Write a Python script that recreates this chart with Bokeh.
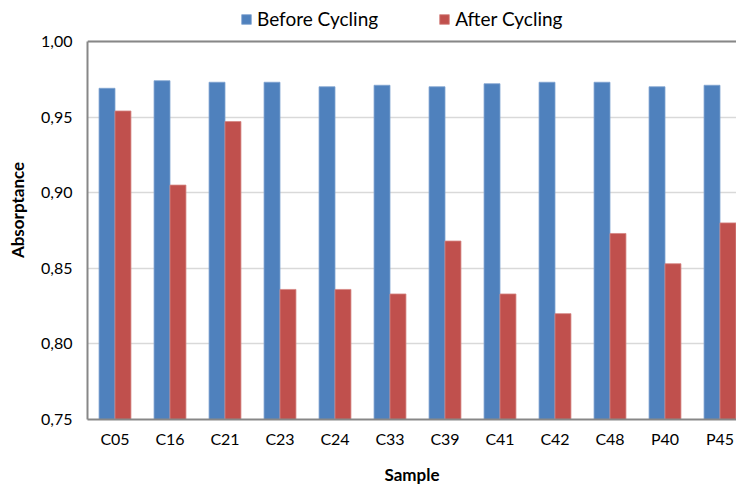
import numpy as np
from bokeh.plotting import figure
from bokeh.models import Range1d, FixedTicker, Span, Legend, LegendItem, ColumnDataSource
from bokeh.embed import file_html
from bokeh.resources import INLINE

categories = ["C05", "C16", "C21", "C23", "C24", "C33", "C39", "C41", "C42", "C48", "P40", "P45"]
before_cycling = [0.969, 0.974, 0.973, 0.973, 0.970, 0.971, 0.970, 0.972, 0.973, 0.973, 0.970, 0.971]
after_cycling = [0.954, 0.905, 0.947, 0.836, 0.836, 0.833, 0.868, 0.833, 0.820, 0.873, 0.853, 0.880]
y_ticks = [0.75, 0.80, 0.85, 0.90, 0.95, 1.00]
y_tick_labels = ["0,75", "0,80", "0,85", "0,90", "0,95", "1,00"]

FONT = "Lato"
BLUE = "#4f81bd"
RED = "#c0504d"
AXIS_GRAY = "#878787"

W, H = 736, 487
LEFT, BOTTOM = 87, 67
TOP_GAP = 41          # pixels between figure top and the 1,00 line
CAT_PX = 55
frame_w = W - LEFT
frame_h = H - BOTTOM
plot_px = frame_h - TOP_GAP
y_lo, y_hi = y_ticks[0], y_ticks[-1]
y_top = y_hi + TOP_GAP * (y_hi - y_lo) / plot_px

centers = np.arange(len(categories)) + 0.5
bar_w = 0.29
src = ColumnDataSource(dict(
    cat=categories,
    xb=centers - bar_w / 2,
    xa=centers + bar_w / 2,
    before=before_cycling,
    after=after_cycling,
))

p = figure(
    width=W, height=H,
    min_border_left=LEFT, min_border_right=0, min_border_top=0, min_border_bottom=BOTTOM,
    x_range=Range1d(0, frame_w / CAT_PX), y_range=Range1d(y_lo, y_top),
    output_backend="svg", toolbar_location=None,
)
p.outline_line_color = None
p.background_fill_color = "white"
p.border_fill_color = "white"

rb = p.vbar(x="xb", top="before", bottom=y_lo, width=bar_w, source=src,
            fill_color=BLUE, line_color="#7fa3d1", line_width=0.8)
ra = p.vbar(x="xa", top="after", bottom=y_lo, width=bar_w, source=src,
            fill_color=RED, line_color="#d48482", line_width=0.8)

# top frame line
p.add_layout(Span(location=y_hi, dimension="width", line_color=AXIS_GRAY, line_width=2))

# grid
p.xgrid.grid_line_color = None
p.ygrid.ticker = FixedTicker(ticks=y_ticks)
p.ygrid.grid_line_color = "#d9d9d9"
p.ygrid.grid_line_width = 1.5

for ax in (p.xaxis, p.yaxis):
    ax.major_tick_out = 0
    ax.major_tick_in = 0
    ax.minor_tick_out = 0
    ax.minor_tick_in = 0
    ax.major_tick_line_color = None
    ax.minor_tick_line_color = None
    ax.axis_line_color = AXIS_GRAY
    ax.axis_line_width = 2
    ax.axis_label_text_font = FONT
    ax.axis_label_text_font_style = "bold"
    ax.axis_label_text_font_size = "17px"
    ax.axis_label_text_color = "black"
    ax.major_label_text_font = FONT
    ax.major_label_text_font_size = "16px"
    ax.major_label_text_color = "black"

# y axis
p.yaxis.ticker = FixedTicker(ticks=y_ticks)
p.yaxis.bounds = (y_lo, y_hi)
p.yaxis.major_label_overrides = {t: l for t, l in zip(y_ticks, y_tick_labels)}
p.yaxis.axis_label = "Absorptance"
p.yaxis.axis_label_standoff = 10
p.yaxis.major_label_standoff = 15

# x axis
p.xaxis.ticker = FixedTicker(ticks=list(centers))
p.xaxis.major_label_overrides = {float(c): n for c, n in zip(centers, categories)}
p.xaxis.axis_label = "Sample"
p.xaxis.axis_label_standoff = 13
p.xaxis.major_label_standoff = 9

legend = Legend(
    items=[LegendItem(label="Before Cycling", renderers=[rb]),
           LegendItem(label="After Cycling", renderers=[ra])],
    orientation="horizontal",
    location=(153, frame_h - 31),
    padding=0, margin=0, spacing=60,
    glyph_width=12, glyph_height=12, label_standoff=5,
    label_text_font=FONT, label_text_font_size="19px", label_text_color="black",
    border_line_color=None, background_fill_alpha=0,
)
p.add_layout(legend, "center")

open("out.html", "w").write(file_html(p, INLINE))
